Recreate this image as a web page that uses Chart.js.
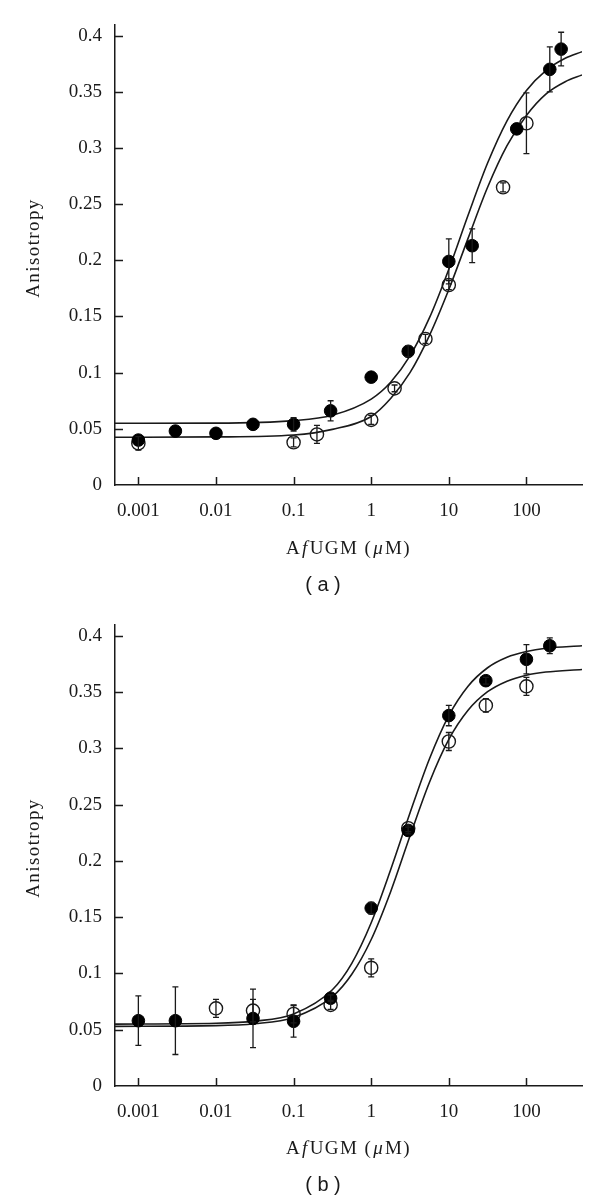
<!DOCTYPE html>
<html>
<head>
<meta charset="utf-8">
<script src="https://cdn.jsdelivr.net/npm/chart.js@4.4.0/dist/chart.umd.min.js"></script>
<style>
  html, body { margin: 0; padding: 0; background: #fff; }
  canvas { display: block; }
</style>
</head>
<body>
<canvas id="chartA" width="600" height="600"></canvas>
<canvas id="chartB" width="600" height="601"></canvas>
<script>
// axis ticks
const xTicks = [0.001, 0.01, 0.1, 1, 10, 100];
const yTicks = [0, 0.05, 0.1, 0.15, 0.2, 0.25, 0.3, 0.35, 0.4];
const yTickLabels = ['0', '0.05', '0.1', '0.15', '0.2', '0.25', '0.3', '0.35', '0.4'];

// panel (a) - measured points
const aFilledX = [0.001, 0.003, 0.01, 0.03, 0.1, 0.3, 1, 3, 10, 20, 75, 200, 280];
const aFilledY = [0.040, 0.048, 0.046, 0.054, 0.054, 0.066, 0.096, 0.119, 0.199, 0.213, 0.317, 0.370, 0.388];
const aFilledErr = [0, 0, 0, 0, 0.006, 0.009, 0, 0.005, 0.020, 0.015, 0, 0.020, 0.015];
const aOpenX = [0.001, 0.1, 0.2, 1, 2, 5, 10, 50, 100];
const aOpenY = [0.037, 0.038, 0.045, 0.058, 0.086, 0.130, 0.178, 0.265, 0.322];
const aOpenErr = [0.006, 0.004, 0.008, 0.004, 0.003, 0.004, 0.004, 0.004, 0.027];
// panel (a) - fitted curves
const aFitX = [0.0005, 0.01, 0.1, 0.316, 1, 1.78, 3.16, 5.62, 10, 17.8, 31.6, 56.2, 100, 178, 316, 520];
const aFitFilledY = [0.055, 0.0551, 0.0573, 0.0621, 0.0765, 0.0915, 0.1149, 0.1487, 0.1921, 0.2406, 0.2866, 0.3242, 0.3512, 0.3689, 0.3798, 0.3857];
const aFitOpenY = [0.0425, 0.0428, 0.0445, 0.0495, 0.061, 0.077, 0.100, 0.133, 0.174, 0.220, 0.265, 0.302, 0.329, 0.348, 0.359, 0.365];

// panel (b) - measured points
const bFilledX = [0.001, 0.003, 0.03, 0.1, 0.3, 1, 3, 10, 30, 100, 200];
const bFilledY = [0.058, 0.058, 0.060, 0.0575, 0.078, 0.158, 0.227, 0.329, 0.360, 0.379, 0.391];
const bFilledErr = [0.022, 0.030, 0.026, 0.014, 0.003, 0.005, 0.003, 0.009, 0.003, 0.013, 0.007];
const bOpenX = [0.01, 0.03, 0.1, 0.3, 1, 3, 10, 30, 100];
const bOpenY = [0.069, 0.067, 0.064, 0.072, 0.105, 0.229, 0.306, 0.338, 0.355];
const bOpenErr = [0.008, 0.010, 0.008, 0.004, 0.008, 0.003, 0.008, 0.006, 0.008];
// panel (b) - fitted curves
const bFitX = [0.0005, 0.01, 0.0316, 0.1, 0.316, 0.562, 1, 1.78, 3.16, 5.62, 10, 17.8, 31.6, 56.2, 100, 178, 520];
const bFitFilledY = [0.055, 0.0557, 0.0576, 0.064, 0.0855, 0.109, 0.145, 0.192, 0.2425, 0.2905, 0.329, 0.3553, 0.3715, 0.3808, 0.3859, 0.3888, 0.391];
const bFitOpenY = [0.053, 0.0536, 0.0553, 0.0609, 0.0793, 0.0992, 0.1301, 0.1726, 0.222, 0.2696, 0.3078, 0.3339, 0.3502, 0.3596, 0.3649, 0.3677, 0.370];

const ink = '#1a1a1a';
const serif = "'Liberation Serif', 'Times New Roman', serif";

function pts(xs, ys) { return xs.map((x, i) => ({x: x, y: ys[i]})); }

// error bars with small caps
const errorBars = {
  id: 'errorBars',
  afterDatasetsDraw(chart) {
    const {ctx, scales: {x, y}} = chart;
    ctx.save();
    ctx.strokeStyle = ink;
    ctx.lineWidth = 1.3;
    chart.data.datasets.forEach(ds => {
      if (!ds.errors) return;
      ds.data.forEach((p, j) => {
        const e = ds.errors[j];
        if (!e) return;
        const px = x.getPixelForValue(p.x);
        const top = y.getPixelForValue(p.y + e);
        const bot = y.getPixelForValue(p.y - e);
        ctx.beginPath();
        ctx.moveTo(px, top); ctx.lineTo(px, bot);
        ctx.moveTo(px - 3, top); ctx.lineTo(px + 3, top);
        ctx.moveTo(px - 3, bot); ctx.lineTo(px + 3, bot);
        ctx.stroke();
      });
    });
    ctx.restore();
  }
};

// inward tick marks, axis titles and panel letter
const decorations = {
  id: 'decorations',
  afterDraw(chart, args, opts) {
    const {ctx, chartArea: ca, scales: {x, y}} = chart;
    ctx.save();
    ctx.strokeStyle = ink;
    ctx.lineWidth = 1.5;
    ctx.beginPath();
    xTicks.forEach(v => {
      const px = Math.round(x.getPixelForValue(v)) + 0.5;
      ctx.moveTo(px, ca.bottom); ctx.lineTo(px, ca.bottom - 8);
    });
    yTicks.slice(1).forEach(v => {
      const py = Math.round(y.getPixelForValue(v)) + 0.5;
      ctx.moveTo(ca.left, py); ctx.lineTo(ca.left + 8, py);
    });
    ctx.stroke();

    ctx.fillStyle = ink;
    ctx.textBaseline = 'middle';
    ctx.letterSpacing = '1.4px';

    // y title
    ctx.save();
    ctx.translate(34, 248);
    ctx.rotate(-Math.PI / 2);
    ctx.textAlign = 'center';
    ctx.font = '19px ' + serif;
    ctx.fillText('Anisotropy', 0, 0);
    ctx.restore();

    // x title with italic parts
    const parts = [['A', false], ['f', true], ['UGM (', false], ['\u03bc', true], ['M)', false]];
    ctx.textAlign = 'left';
    let total = 0;
    parts.forEach(p => {
      ctx.font = (p[1] ? 'italic ' : '') + '19px ' + serif;
      p.push(ctx.measureText(p[0]).width + (p[1] ? 2 : 0));
      total += p[2];
    });
    let cx = (ca.left + ca.right) / 2 - total / 2;
    parts.forEach(p => {
      ctx.font = (p[1] ? 'italic ' : '') + '19px ' + serif;
      ctx.fillText(p[0], cx + (p[1] ? 1 : 0), 549);
      cx += p[2];
    });

    // panel letter
    ctx.letterSpacing = '0px';
    ctx.textAlign = 'center';
    ctx.font = "20px 'Liberation Sans', Arial, sans-serif";
    ctx.fillText(opts.letter, 323, 585);
    ctx.restore();
  }
};

function makeChart(id, letter, fx, fy, fe, ox, oy, oe, cx, cfy, coy) {
  return new Chart(document.getElementById(id), {
    type: 'scatter',
    data: {
      datasets: [
        { data: pts(fx, fy), errors: fe, pointRadius: 6.3, pointBorderWidth: 1,
          pointBackgroundColor: '#000', pointBorderColor: '#000', showLine: false },
        { data: pts(ox, oy), errors: oe, pointRadius: 6.6, pointBorderWidth: 1.4,
          pointBackgroundColor: 'rgba(255,255,255,0)', pointBorderColor: ink, showLine: false },
        { data: pts(cx, cfy), showLine: true, pointRadius: 0, borderColor: ink, borderWidth: 1.6,
          cubicInterpolationMode: 'monotone', fill: false },
        { data: pts(cx, coy), showLine: true, pointRadius: 0, borderColor: ink, borderWidth: 1.6,
          cubicInterpolationMode: 'monotone', fill: false }
      ]
    },
    options: {
      responsive: false,
      animation: false,
      events: [],
      layout: { padding: { top: 20, right: 18, bottom: 0, left: 0 } },
      plugins: {
        legend: { display: false },
        tooltip: { enabled: false },
        decorations: { letter: letter }
      },
      scales: {
        x: {
          type: 'logarithmic', min: 0.0005, max: 520,
          afterBuildTicks: s => { s.ticks = xTicks.map(v => ({value: v})); },
          afterFit: s => { s.height = 115; },
          grid: { display: false, drawTicks: false },
          border: { display: true, color: ink, width: 1.5 },
          ticks: { color: ink, padding: 15, maxRotation: 0, autoSkip: false,
                   font: { family: serif, size: 19 },
                   callback: v => String(v) }
        },
        y: {
          type: 'linear', min: 0, max: 0.41,
          afterBuildTicks: s => { s.ticks = yTicks.map(v => ({value: v})); },
          afterFit: s => { s.width = 115; },
          grid: { display: false, drawTicks: false },
          border: { display: true, color: ink, width: 1.5 },
          ticks: { color: ink, padding: 13, autoSkip: false,
                   font: { family: serif, size: 19 },
                   callback: (v, i) => yTickLabels[i] }
        }
      }
    },
    plugins: [errorBars, decorations]
  });
}

makeChart('chartA', '( a )', aFilledX, aFilledY, aFilledErr, aOpenX, aOpenY, aOpenErr,
          aFitX, aFitFilledY, aFitOpenY);
makeChart('chartB', '( b )', bFilledX, bFilledY, bFilledErr, bOpenX, bOpenY, bOpenErr,
          bFitX, bFitFilledY, bFitOpenY);
</script>
</body>
</html>
